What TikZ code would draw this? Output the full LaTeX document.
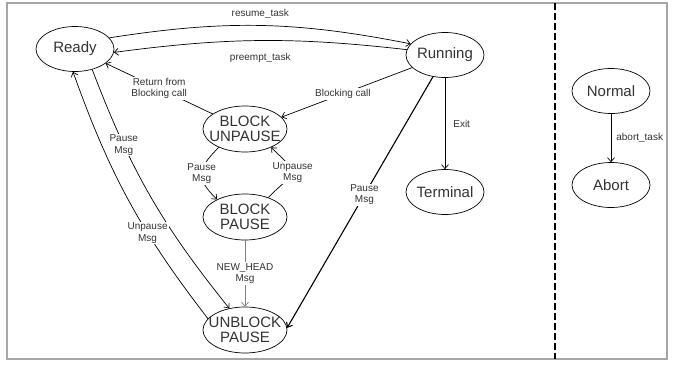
\documentclass[tikz,border=0pt]{standalone}
\usepackage{fontspec}
\setmainfont{Liberation Sans}
\usepackage{tikz}
\usetikzlibrary{shapes,arrows}
\usetikzlibrary{positioning}
\usetikzlibrary{arrows.meta}
\tikzset{>={Straight Barb[length=4pt,width=7pt]}}
\definecolor{txtgray}{HTML}{333333}
\tikzstyle{task} = [draw, 
ellipse,
line width=0.7pt,
text=txtgray,
align=center,
inner xsep=-14pt, inner ysep=-6pt,
font=\fontsize{15}{15.5}\selectfont,
minimum width=78pt,
minimum height=45pt]
\tikzstyle{line} = [draw, 
->, 
line width=0.7pt,
color=black]
\tikzstyle{lbl} = [fill=white,
inner sep=1pt,
align=center,
text=txtgray,
font=\fontsize{10}{11.5}\selectfont]

\begin{document}
\begin{tikzpicture}[x=1pt, y=-1pt,
	big/.style={minimum width=84pt, minimum height=46pt}]
	\useasboundingbox (0,0) rectangle (677,364);
	%% frame and divider
	\draw [gray!70, line width=1.2pt] (7,3) rectangle (667,359);
	\draw [line width=1.6pt, dash pattern=on 7pt off 3pt] (555,3) -- (555,359);
	%% states
	\node [task] (Ready) at (75,49) {Ready};
	\node [task] (Running) at (445,55) {Running};
	\node [task, on grid, below=137pt of Running] (Terminal) {Terminal};
	\node [task, big] (BU) at (245,129) {BLOCK\\UNPAUSE};
	\node [task, big, on grid, below=88pt of BU] (BP) {BLOCK\\PAUSE};
	\node [task, big, on grid, below=113pt of BP] (UP) {UNBLOCK\\PAUSE};
	\node [task] (Normal) at (611,91) {Normal};
	\node [task, on grid, below=94pt of Normal] (Abort) {Abort};
	%% Ready <-> Running
	\path [line] (Ready.18) to [bend left = 10] node [lbl, midway, above=6pt, fill=none] (TextNode) {resume\_task} (Running.162);
	\path [line] (Running.172) to [bend right = 7] node [lbl, midway, below=11pt, fill=none] (TextNode) {preempt\_task} (Ready.-5);
	%% blocking
	\path [line] (BU.155) -- node [lbl, pos=0.5] (TextNode) {Return from\\Blocking call} (Ready.-25);
	\path [line] (Running.201) -- node [lbl, pos=0.53] (TextNode) {Blocking call} (BU.18);
	\path [line] (BU.215) to [out=225, in=135, looseness=1.5] node [lbl, midway] (TextNode) {Pause\\Msg} (BP.148);
	\path [line] (BP.40) to [out=45, in=-45, looseness=2.2] node [lbl, midway] (TextNode) {Unpause\\Msg} (BU.-35);
	\path [line, color=gray] (BP) -- node [lbl, midway] (TextNode) {NEW\_HEAD\\Msg} (UP);
	%% pause / unpause
	\path [line] (Ready.-50) to [bend right = 9] node [lbl, pos=0.28] (TextNode) {Pause\\Msg} (UP.126);
	\path [line] (UP.163) to [bend left = 9] node [lbl, pos=0.36] (TextNode) {Unpause\\Msg} (Ready.265);
	\path [line, line width=1.1pt] (Running.241) -- node [lbl, pos=0.47] (TextNode) {Pause\\Msg} (UP.3);
	%% end states
	\path [line] (Running) -- node [lbl, midway, right=7pt, fill=none] (TextNode) {Exit} (Terminal);
	\path [line] (Normal) -- node [lbl, midway, right=4pt, fill=none] (TextNode) {abort\_task} (Abort);
\end{tikzpicture}
\end{document}
